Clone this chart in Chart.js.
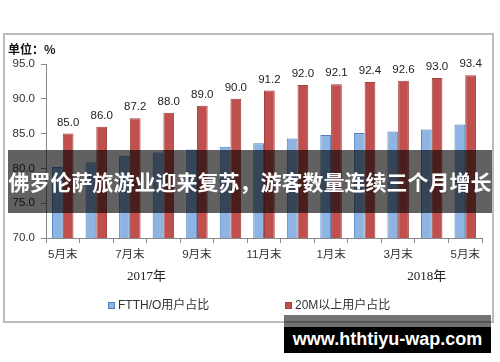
<!DOCTYPE html>
<html>
<head>
<meta charset="utf-8">
<script src="https://cdn.jsdelivr.net/npm/chart.js@4/dist/chart.umd.min.js"></script>
<style>
  html, body { margin: 0; padding: 0; background: #fff; }
  #wrap { position: relative; width: 500px; height: 362px; overflow: hidden; }
  canvas { position: absolute; left: 0; top: 0; }
  #banner {
    position: absolute; left: 8px; top: 150px; width: 484px; height: 63px;
    background: rgba(0,0,0,0.62); color: #fff;
    font-family: "Noto Sans CJK SC", sans-serif; font-weight: bold; font-size: 21px;
    line-height: 63px; text-align: center; white-space: nowrap;
  }
  #wm-top { position: absolute; left: 284px; top: 315px; width: 207px; height: 12px; background: rgba(0,0,0,0.55); }
  #wm {
    position: absolute; left: 284px; top: 327px; width: 207px; height: 26px; background: #000; color: #fff;
    font-family: "Liberation Sans", Arial, sans-serif; font-weight: bold; font-size: 18px;
    line-height: 24px; text-align: center; white-space: nowrap;
  }
</style>
</head>
<body>
<div id="wrap">
  <canvas id="c" width="500" height="362"></canvas>
  <div id="banner">佛罗伦萨旅游业迎来复苏，游客数量连续三个月增长</div>
  <div id="wm-top"></div>
  <div id="wm">www.hthtiyu-wap.com</div>
</div>
<script>
const categories = ["5月末","6月末","7月末","8月末","9月末","10月末","11月末","12月末","1月末","2月末","3月末","4月末","5月末"];
const ftthValues = [80.2, 80.9, 81.8, 82.3, 82.7, 83.1, 83.6, 84.3, 84.8, 85.1, 85.3, 85.6, 86.3];
const over20MValues = [85.0, 86.0, 87.2, 88.0, 89.0, 90.0, 91.2, 92.0, 92.1, 92.4, 92.6, 93.0, 93.4];
const seriesNames = ["FTTH/O用户占比", "20M以上用户占比"];
const yearLabels = [{ text: "2017年", at: 2.5 }, { text: "2018年", at: 10.85 }];
const unitLabel = "单位：%";
const yTicks = { min: 70, max: 95, step: 5 };

const FONT = "'Liberation Sans', Arial, 'Noto Sans CJK SC', sans-serif";
Chart.defaults.font.family = FONT;
Chart.defaults.color = "#333";

const decor = {
  id: "decor",
  beforeDraw(chart) {
    const ctx = chart.ctx;
    ctx.save();
    ctx.fillStyle = "#fff";
    ctx.fillRect(0, 0, chart.width, chart.height);
    ctx.strokeStyle = "#b8bcbc";
    ctx.lineWidth = 2;
    ctx.strokeRect(4, 34, 489, 288);
    ctx.restore();
  },
  afterDatasetsDraw(chart) {
    const ctx = chart.ctx;
    ctx.save();
    ctx.font = "11.5px " + FONT;
    ctx.fillStyle = "#222";
    ctx.textAlign = "center";
    ctx.textBaseline = "middle";
    const redMeta = chart.getDatasetMeta(1);
    redMeta.data.forEach((bar, i) => {
      ctx.fillText(chart.data.datasets[1].data[i].toFixed(1), bar.x, bar.y - 11);
    });
    const blueMeta = chart.getDatasetMeta(0);
    blueMeta.data.forEach((bar, i) => {
      ctx.fillText(chart.data.datasets[0].data[i].toFixed(1), bar.x + 1, (bar.y + bar.base) / 2);
    });
    ctx.restore();
  },
  afterDraw(chart) {
    const ctx = chart.ctx;
    const xs = chart.scales.x;
    ctx.save();
    // unit label
    ctx.font = "bold 12px 'Noto Sans CJK SC', sans-serif";
    ctx.fillStyle = "#111";
    ctx.textAlign = "left";
    ctx.textBaseline = "middle";
    ctx.fillText(unitLabel, 8, 49);
    // year labels
    ctx.font = "13px 'Liberation Serif', 'Noto Sans CJK SC', serif";
    ctx.fillStyle = "#222";
    ctx.textAlign = "center";
    yearLabels.forEach(y => {
      const a = xs.getPixelForValue(Math.floor(y.at));
      const b = xs.getPixelForValue(Math.floor(y.at) + 1);
      const px = a + (b - a) * (y.at - Math.floor(y.at));
      ctx.fillText(y.text, px, 277);
    });
    // legend
    ctx.font = "12px " + FONT;
    ctx.textAlign = "left";
    const legendX = [108, 285];
    chart.data.datasets.forEach((ds, i) => {
      const x = legendX[i];
      ctx.fillStyle = ds.backgroundColor;
      ctx.fillRect(x, 302, 6, 6);
      ctx.strokeStyle = ds.borderColor;
      ctx.lineWidth = 1;
      ctx.strokeRect(x + 0.5, 302.5, 6, 6);
      ctx.fillStyle = "#333";
      ctx.fillText(ds.label, x + 10, 305.5);
    });
    ctx.restore();
  }
};

new Chart(document.getElementById("c"), {
  type: "bar",
  data: {
    labels: categories,
    datasets: [
      { label: seriesNames[0], data: ftthValues, backgroundColor: "#8db4e2", borderColor: "#4f81bd", borderWidth: 1 },
      { label: seriesNames[1], data: over20MValues, backgroundColor: "#c0504d", borderColor: "#a0403d", borderWidth: 1 }
    ]
  },
  options: {
    responsive: false,
    devicePixelRatio: 1,
    animation: false,
    datasets: { bar: { categoryPercentage: 0.64, barPercentage: 1.0 } },
    layout: { padding: { left: 0, top: 64, right: 18, bottom: 0 } },
    plugins: { legend: { display: false }, tooltip: { enabled: false } },
    scales: {
      x: {
        grid: { offset: true, drawOnChartArea: false, drawTicks: true, tickLength: 5, color: "#888" },
        border: { display: true, color: "#888" },
        ticks: {
          autoSkip: false, maxRotation: 0, padding: 5,
          font: { size: 11.5 }, color: "#333",
          callback: function(v, i) { return i % 2 === 0 ? categories[i] : ""; }
        },
        afterFit(scale) { scale.height = 124; }
      },
      y: {
        min: yTicks.min, max: yTicks.max,
        grid: { drawOnChartArea: false, drawTicks: true, tickLength: 5, color: "#888" },
        border: { display: true, color: "#888" },
        ticks: {
          stepSize: yTicks.step, padding: 6, font: { size: 11.5 }, color: "#333",
          callback: v => Number(v).toFixed(1)
        },
        afterFit(scale) { scale.width = 46; }
      }
    }
  },
  plugins: [decor]
});
</script>
</body>
</html>
